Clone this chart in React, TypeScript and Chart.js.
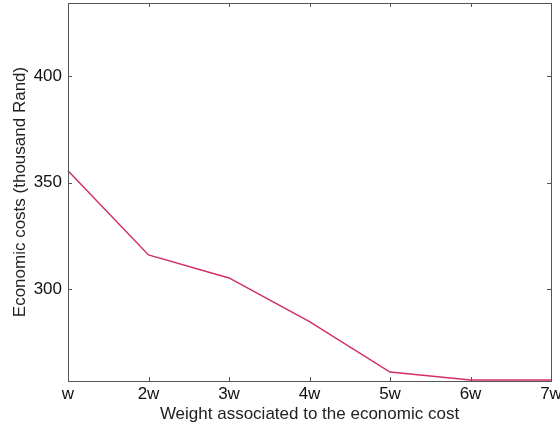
import React, { useEffect, useRef } from "react";
import { Chart, registerables } from "chart.js";

Chart.register(...registerables);

const categories = ["w", "2w", "3w", "4w", "5w", "6w", "7w"];
const costs = [355.5, 316.0, 305.2, 284.7, 261.0, 257.3, 257.3];
const yMin = 256.8;
const yMax = 434.3;
const yStep = 50;

const framePlugin = {
  id: "frameTicks",
  afterDraw(chart: any) {
    const { ctx, chartArea } = chart;
    const { left, right, top, bottom } = chartArea;
    ctx.save();
    ctx.strokeStyle = "#555";
    ctx.lineWidth = 1;
    ctx.strokeRect(Math.round(left) + 0.5, Math.round(top) + 0.5, Math.round(right - left), Math.round(bottom - top));
    const len = 4;
    ctx.beginPath();
    const xs = chart.scales.x;
    xs.ticks.forEach((t: any, i: number) => {
      const px = Math.round(xs.getPixelForTick(i)) + 0.5;
      ctx.moveTo(px, bottom);
      ctx.lineTo(px, bottom - len);
      ctx.moveTo(px, top);
      ctx.lineTo(px, top + len);
    });
    const ys = chart.scales.y;
    ys.ticks.forEach((t: any) => {
      const py = Math.round(ys.getPixelForValue(t.value)) + 0.5;
      ctx.moveTo(left, py);
      ctx.lineTo(left + len, py);
      ctx.moveTo(right, py);
      ctx.lineTo(right - len, py);
    });
    ctx.stroke();
    ctx.restore();
  },
};

export default function App() {
  const ref = useRef<HTMLCanvasElement>(null);
  useEffect(() => {
    document.body.style.margin = "0";
    const font = { family: "'Liberation Sans', Arial, sans-serif", size: 17 };
    const chart = new Chart(ref.current!, {
      type: "line",
      data: {
        labels: categories,
        datasets: [
          {
            data: costs,
            borderColor: "#d1305f",
            borderWidth: 1.5,
            pointRadius: 0,
            fill: false,
            tension: 0,
          },
        ],
      },
      options: {
        animation: false,
        responsive: false,
        maintainAspectRatio: false,
        layout: { padding: { left: 6, right: 9, top: 3, bottom: 0 } },
        plugins: { legend: { display: false }, tooltip: { enabled: false } },
        scales: {
          x: {
            offset: false,
            grid: { display: false, drawTicks: false },
            border: { display: false },
            ticks: { color: "#111", font, padding: 3, maxRotation: 0, autoSkip: false },
            title: {
              display: true,
              text: "Weight associated to the economic cost",
              color: "#222",
              font,
              padding: { top: 0, bottom: 0 },
            },
            afterFit(scale: any) {
              scale.height = 44;
              scale.paddingLeft = 0;
              scale.paddingRight = 0;
            },
          },
          y: {
            min: yMin,
            max: yMax,
            grid: { display: false, drawTicks: false },
            border: { display: false },
            ticks: { stepSize: yStep, includeBounds: false, color: "#111", font, padding: 6 },
            title: {
              display: true,
              text: "Economic costs (thousand Rand)",
              color: "#222",
              font,
              padding: { top: 4, bottom: 0 },
            },
            afterFit(scale: any) {
              scale.width = 62;
              scale.paddingTop = 0;
              scale.paddingBottom = 0;
            },
          },
        },
      },
      plugins: [framePlugin],
    });
    return () => chart.destroy();
  }, []);
  return (
    <div style={{ width: 560, height: 425 }}>
      <canvas ref={ref} width={560} height={425} />
    </div>
  );
}
